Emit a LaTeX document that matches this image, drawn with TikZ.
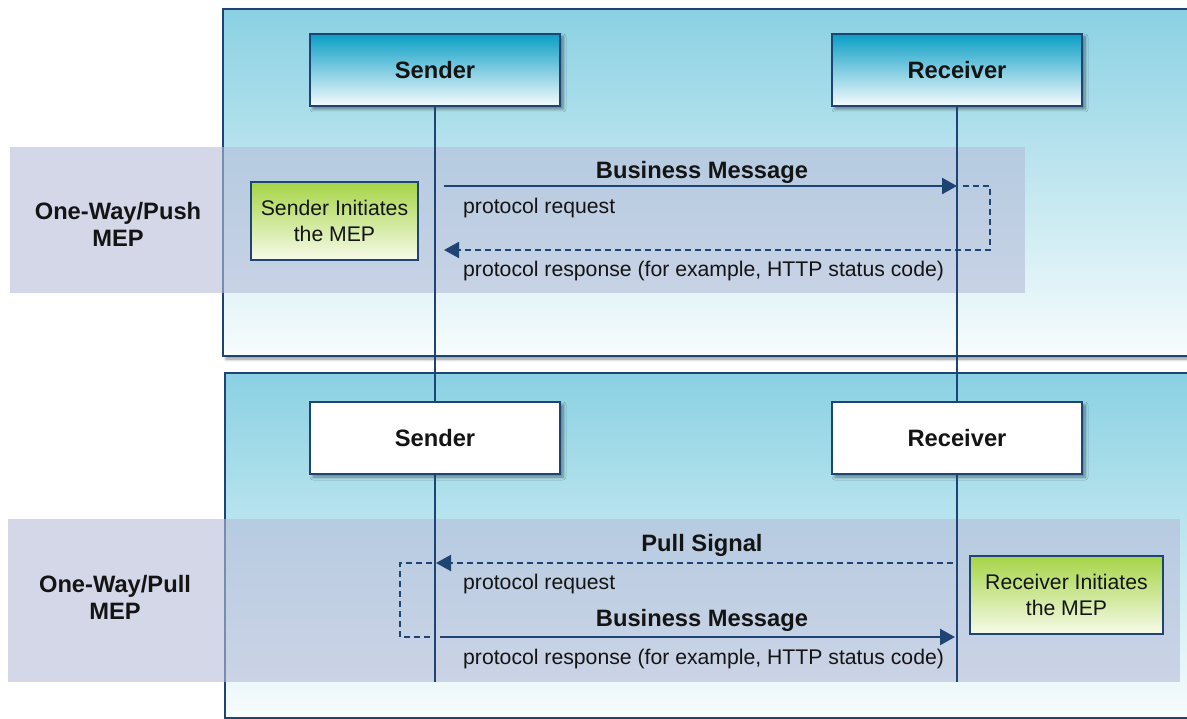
\documentclass[tikz,border=0pt]{standalone}
\usepackage{fontspec}
\setmainfont{Liberation Sans}
\usetikzlibrary{arrows.meta,shadows.blur}

\definecolor{navy}{RGB}{30,68,116}
\definecolor{panelTop}{RGB}{138,209,227}
\definecolor{panelBot}{RGB}{248,252,253}
\definecolor{headTop}{RGB}{10,158,197}
\definecolor{headBot}{RGB}{246,251,253}
\definecolor{bandFill}{RGB}{182,188,217}
\definecolor{greenTop}{RGB}{165,212,70}
\definecolor{greenBot}{RGB}{247,251,233}
\definecolor{ink}{RGB}{20,20,20}

\begin{document}
\begin{tikzpicture}[x=1pt,y=-1pt,
  boldtxt/.style={font=\fontsize{23.7}{27}\selectfont\bfseries, text=ink, align=center},
  plaintxt/.style={font=\fontsize{21.2}{26}\selectfont, text=ink},
  softshadow/.style={blur shadow={shadow xshift=3pt, shadow yshift=-3pt,
      shadow blur steps=6, shadow blur radius=3pt, shadow opacity=45}},
  panel/.style={draw=navy, line width=2pt, top color=panelTop, bottom color=panelBot,
      anchor=north west, inner sep=0pt, softshadow},
  band/.style={fill=bandFill, fill opacity=0.6, anchor=north west, inner sep=0pt},
  headbox/.style={draw=navy, line width=2pt, minimum width=250pt, minimum height=72pt,
      top color=headTop, bottom color=headBot, softshadow, boldtxt},
  plainbox/.style={draw=navy, line width=2pt, minimum width=250pt, minimum height=72pt,
      fill=white, softshadow, boldtxt},
  greenbox/.style={draw=navy, line width=2pt, top color=greenTop, bottom color=greenBot,
      plaintxt, align=center, minimum width=167pt, minimum height=78pt,
      execute at begin node={\vspace*{4pt}}},
  life/.style={draw=navy, line width=2pt},
  tip/.style={-{Triangle[length=15pt,width=16pt]}},
  msg/.style={draw=navy, line width=2.5pt, tip},
  reply/.style={draw=navy, line width=2pt, dash pattern=on 6pt off 4pt},
  replytip/.style={reply, tip},
  note/.style={plaintxt, anchor=west, inner sep=0pt}
]
\useasboundingbox (0,0) rectangle (1187,719);

% framed panels and the shaded bands across them
\node[panel, minimum width=990pt, minimum height=347pt] (pushPanel) at (222,8) {};
\node[panel, minimum width=990pt, minimum height=345pt] (pullPanel) at (224,372) {};
\node[band, minimum width=1015pt, minimum height=146pt] (pushBand) at (10,147) {};
\node[band, minimum width=1172pt, minimum height=163pt] (pullBand) at (8,519) {};

% participants
\node[headbox] (sTop) at (435,70) {Sender};
\node[headbox] (rTop) at (957,70) {Receiver};
\node[plainbox] (sBot) at (435,438) {Sender};
\node[plainbox] (rBot) at (957,438) {Receiver};

% lifelines
\coordinate (sEnd) at (sBot.south |- 0,682);
\coordinate (rEnd) at (rBot.south |- 0,682);
\draw[life] (sTop.south) -- (sBot.north);
\draw[life] (rTop.south) -- (rBot.north);
\draw[life] (sBot.south) -- (sEnd);
\draw[life] (rBot.south) -- (rEnd);

% row labels
\node[boldtxt] (pushLbl) at (118,224) {One-Way/Push\\MEP};
\node[boldtxt] (pullLbl) at (115,597) {One-Way/Pull\\MEP};

% initiator notes
\node[greenbox] (sInit) at (334.5,221) {Sender Initiates\\the MEP};
\node[greenbox, minimum width=193pt] (rInit) at (1066.5,595) {Receiver Initiates\\the MEP};

% push exchange
\coordinate (pushReqA) at (444,186);
\coordinate (pushReqB) at (957,186);
\coordinate (pushLoopA) at (963,186);
\coordinate (pushLoopB) at (990,186);
\coordinate (pushLoopC) at (990,250);
\coordinate (pushRespB) at (444,250);
\draw[msg] (pushReqA) -- (pushReqB);
\draw[replytip] (pushLoopA) -- (pushLoopB) -- (pushLoopC) -- (pushRespB);
\node[boldtxt] (pushMsgLbl) at (702,172) {Business Message};
\node[note] (pushReqLbl) at (463,208) {protocol request};
\node[note] (pushRespLbl) at (463,271) {protocol response (for example, HTTP status code)};

% pull exchange
\coordinate (pullSigA) at (953,563);
\coordinate (pullSigB) at (436,563);
\coordinate (pullLoopA) at (432,563);
\coordinate (pullLoopB) at (400,563);
\coordinate (pullLoopC) at (400,637);
\coordinate (pullLoopD) at (432,637);
\coordinate (pullMsgA) at (440,637);
\coordinate (pullMsgB) at (955,637);
\draw[replytip] (pullSigA) -- (pullSigB);
\draw[reply] (pullLoopA) -- (pullLoopB) -- (pullLoopC) -- (pullLoopD);
\draw[msg] (pullMsgA) -- (pullMsgB);
\node[boldtxt] (pullSigLbl) at (702,545) {Pull Signal};
\node[note] (pullReqLbl) at (463,584) {protocol request};
\node[boldtxt] (pullMsgLbl) at (702,620) {Business Message};
\node[note] (pullRespLbl) at (463,659) {protocol response (for example, HTTP status code)};
\end{tikzpicture}
\end{document}
